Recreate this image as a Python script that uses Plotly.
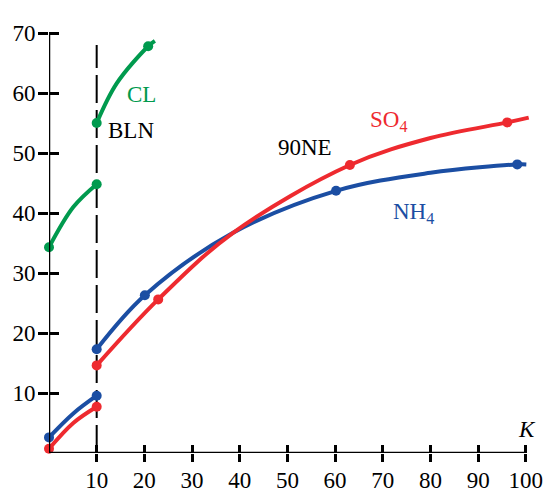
import plotly.graph_objects as go

# ---- data ----
# CL (green)
cl_low_x = [0, 5.1, 10]
cl_low_y = [34.3, 41.0, 44.8]
cl_up_x = [10, 14.2, 20.8, 22.2]
cl_up_y = [55.0, 61.6, 67.8, 68.7]
cl_pts_x = [0, 10, 10, 20.8]
cl_pts_y = [34.3, 44.8, 55.0, 67.8]

# NH4 (blue)
nh_low_x = [0, 5.1, 10]
nh_low_y = [2.6, 6.6, 9.55]
nh_up_x = [10, 20.1, 38.6, 60.2, 80, 98.2, 100.1]
nh_up_y = [17.3, 26.3, 36.7, 43.7, 46.7, 48.1, 48.1]
nh_pts_x = [0, 10, 10, 20.1, 60.2, 98.2]
nh_pts_y = [2.6, 9.55, 17.3, 26.3, 43.7, 48.1]

# SO4 (red)
so_low_x = [0, 5.1, 10]
so_low_y = [0.7, 5.0, 7.7]
so_up_x = [10, 22.9, 38.6, 63.1, 80, 96.1, 100.6]
so_up_y = [14.6, 25.6, 36.7, 48.0, 52.5, 55.1, 55.9]
so_pts_x = [0, 10, 10, 22.9, 63.1, 96.1]
so_pts_y = [0.7, 7.7, 14.6, 25.6, 48.0, 55.1]

x_ticks = [10, 20, 30, 40, 50, 60, 70, 80, 90, 100]
y_ticks = [10, 20, 30, 40, 50, 60, 70]
boundary_x = 10

GREEN = "#009a4e"
BLUE = "#1b4ea3"
RED = "#ee2a2f"
FONT = "Liberation Serif, Times New Roman, serif"
FS = 23

fig = go.Figure()

def curve(x, y, color):
    fig.add_trace(go.Scatter(x=x, y=y, mode="lines",
                             line=dict(color=color, width=4, shape="spline", smoothing=1.0),
                             hoverinfo="skip", showlegend=False))

def dots(x, y, color):
    fig.add_trace(go.Scatter(x=x, y=y, mode="markers",
                             marker=dict(color=color, size=10),
                             cliponaxis=False, hoverinfo="skip", showlegend=False))

curve(cl_low_x, cl_low_y, GREEN)
curve(cl_up_x, cl_up_y, GREEN)
curve(nh_low_x, nh_low_y, BLUE)
curve(nh_up_x, nh_up_y, BLUE)
curve(so_low_x, so_low_y, RED)
curve(so_up_x, so_up_y, RED)
dots(cl_pts_x, cl_pts_y, GREEN)
dots(nh_pts_x, nh_pts_y, BLUE)
dots(so_pts_x, so_pts_y, RED)

# invisible trace to activate the overlaid tick axes
fig.add_trace(go.Scatter(x=[50], y=[30], xaxis="x2", yaxis="y2", mode="markers",
                         marker=dict(opacity=0), hoverinfo="skip", showlegend=False))

XR = [0, 101.5]
YR = [0, 71]

fig.update_layout(
    width=546, height=493,
    margin=dict(l=49, r=13, t=27, b=40, autoexpand=False),
    paper_bgcolor="white", plot_bgcolor="white",
    font=dict(family=FONT, size=FS, color="black"),
    xaxis=dict(range=XR, tickvals=x_ticks, ticktext=[str(v) for v in x_ticks],
               ticks="outside", ticklen=8, tickwidth=2.5, tickcolor="black",
               showline=False, zeroline=False, showgrid=False, automargin=False,
               tickfont=dict(family=FONT, size=FS, color="black"), ticklabelstandoff=-2),
    yaxis=dict(range=YR, tickvals=y_ticks, ticktext=[str(v) for v in y_ticks],
               ticks="outside", ticklen=10, tickwidth=2.5, tickcolor="black",
               showline=False, zeroline=False, showgrid=False, automargin=False,
               tickfont=dict(family=FONT, size=FS, color="black"), ticklabelstandoff=-2),
    xaxis2=dict(range=XR, overlaying="x", anchor="y", side="bottom", automargin=False,
                tickvals=x_ticks, ticks="inside", ticklen=8, tickwidth=2.5, tickcolor="black",
                showticklabels=False, showline=False, zeroline=False, showgrid=False),
    yaxis2=dict(range=YR, overlaying="y", anchor="x", side="left", automargin=False,
                tickvals=y_ticks, ticks="inside", ticklen=10, tickwidth=2.5, tickcolor="black",
                showticklabels=False, showline=False, zeroline=False, showgrid=False),
    shapes=[
        dict(type="line", xref="x", yref="y", x0=0, y0=0, x1=100, y1=0,
             line=dict(color="black", width=2.5), layer="above"),
        dict(type="line", xref="x", yref="y", x0=0, y0=0, x1=0, y1=70,
             line=dict(color="black", width=2.5), layer="above"),
        dict(type="line", xref="x", yref="y", x0=boundary_x, y0=0, x1=boundary_x, y1=68,
             line=dict(color="black", width=2, dash="28px,7px"), layer="below"),
    ],
)

def label(x, y, text, color="black", xanchor="center"):
    fig.add_annotation(x=x, y=y, xref="x", yref="y", text=text, showarrow=False,
                       xanchor=xanchor, yanchor="middle",
                       font=dict(family=FONT, size=FS, color=color))

label(1.5, 71.8, "<i>C</i>, ppm", xanchor="left")
label(19.3, 59.8, "CL", GREEN)
label(17.2, 53.7, "BLN")
label(53.7, 50.9, "90NE")
label(67.0, 55.3, "SO<sub>4</sub>", RED, xanchor="left")
label(71.8, 40.0, "NH<sub>4</sub>", BLUE, xanchor="left")
label(100.2, 4.0, "<i>K</i>")

fig.write_html("out.html")
